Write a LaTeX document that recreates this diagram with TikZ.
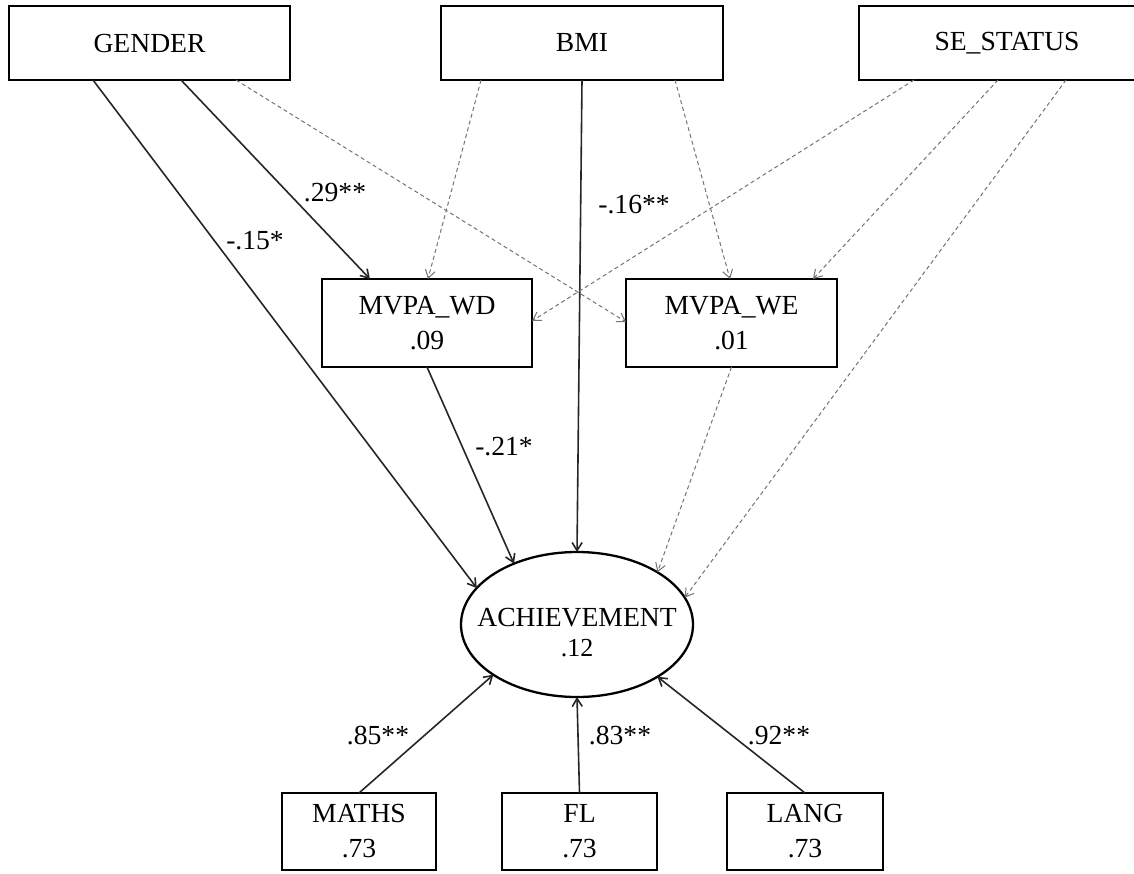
\documentclass[tikz,border=0pt]{standalone}
\usepackage{fontspec}
\setmainfont{Liberation Serif}
\usetikzlibrary{arrows.meta,calc,shapes.geometric}
\begin{document}
\begin{tikzpicture}[x=0.5pt,y=-0.5pt,
  box/.style={draw, line width=1.15pt, rectangle, inner sep=0pt, outer sep=0pt, align=center, font=\fontsize{13.8}{17.5}\selectfont},
  twoline/.style={box, execute at begin node={\rule{0pt}{13.1pt}}},
  lat/.style={draw, line width=1.15pt, ellipse, inner sep=0pt, outer sep=0pt, minimum width=116pt, minimum height=72.5pt, font=\fontsize{13.8}{15}\selectfont},
  sig/.style={-{Straight Barb[length=4pt,width=5pt]}, line width=0.8pt, black!85},
  ns/.style={-{Straight Barb[length=4pt,width=5pt]}, line width=0.5pt, black!55, dash pattern=on 2pt off 1.5pt},
  coef/.style={font=\fontsize{13.8}{16}\selectfont, inner sep=0pt}
]
\useasboundingbox (0,0) rectangle (1134,873);

% exogenous variables
\node[box, minimum width=140.5pt, minimum height=37pt] (gender) at (149.5,43) {GENDER};
\node[box, minimum width=141pt, minimum height=37pt] (bmi) at (582,43) {BMI};
\node[box, minimum width=148pt, minimum height=37pt] (ses) at (1007,43) {SE\_STATUS};

% mediators
\node[twoline, minimum width=105pt, minimum height=44pt] (wd) at (427,323) {MVPA\_WD\\.09};
\node[twoline, minimum width=105.5pt, minimum height=44pt] (we) at (731.5,323) {MVPA\_WE\\.01};

% latent
\node[lat] (ach) at (577,624.5) {\raisebox{-9pt}[0pt][0pt]{\makebox[0pt]{\begin{tabular}{@{}c@{}}ACHIEVEMENT\\{\fontsize{13}{15}\selectfont .12}\end{tabular}}}};

% indicators
\node[twoline, minimum width=77pt, minimum height=38.5pt] (maths) at (359,831.5) {MATHS\\.73};
\node[twoline, minimum width=77.5pt, minimum height=38.5pt] (fl) at (579.5,831.5) {FL\\.73};
\node[twoline, minimum width=78pt, minimum height=38.5pt] (lang) at (805,831.5) {LANG\\.73};

% paths
\draw[sig] ($(gender.south west)+(84,0)$) -- (ach.160.7);
\draw[sig] ($(gender.south west)+(172,0)$) -- ($(wd.north west)+(48,0)$);
\draw[ns] ($(gender.south west)+(227,0)$) -- ($(we.north west)+(0,43)$);
\draw[ns] ($(bmi.south west)+(40,0)$) -- ($(wd.north west)+(106,0)$);
\draw[sig] (bmi.south) -- (ach.north);
\draw[ns] ($(bmi.south west)+(234,0)$) -- ($(we.north west)+(104,0)$);
\draw[ns] ($(ses.south west)+(55,0)$) -- ($(wd.north east)+(0,42)$);
\draw[ns] ($(ses.south west)+(139,0)$) -- ($(we.north west)+(187,0)$);
\draw[ns] ($(ses.south west)+(207,0)$) -- (ach.14);
\draw[sig] (wd.south) -- (ach.136.6);
\draw[ns] (we.south) -- (ach.33.9);
\draw[sig] (maths.north) -- (ach.211);
\draw[sig] (fl.north) -- (ach.south);
\draw[sig] (lang.north) -- (ach.327.7);

% coefficients
\node[coef] (c29) at (335,193) {.29**};
\node[coef] (c15) at (255,241) {-.15*};
\node[coef] (c16) at (634,205) {-.16**};
\node[coef] (c21) at (504,447) {-.21*};
\node[coef] (c85) at (378,736) {.85**};
\node[coef] (c83) at (620,736) {.83**};
\node[coef] (c92) at (779,736) {.92**};
\end{tikzpicture}
\end{document}
